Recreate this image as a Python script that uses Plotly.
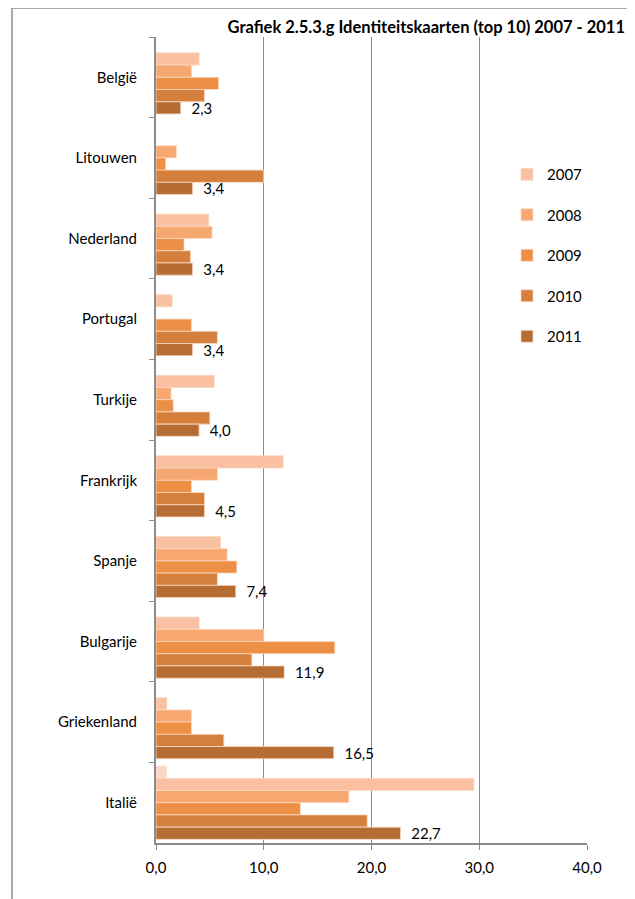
import plotly.graph_objects as go

categories = ["België", "Litouwen", "Nederland", "Portugal", "Turkije",
              "Frankrijk", "Spanje", "Bulgarije", "Griekenland", "Italië"]
years = ["2007", "2008", "2009", "2010", "2011"]
extra = [None, None, None, None, None, None, None, None, None, 1.0]
v2007 = [4.0, None, 4.9, 1.5, 5.4, 11.8, 6.0, 4.0, 1.0, 29.5]
v2008 = [3.3, 1.9, 5.2, None, 1.4, 5.7, 6.6, 10.0, 3.3, 17.9]
v2009 = [5.8, 0.9, 2.6, 3.3, 1.6, 3.3, 7.5, 16.6, 3.3, 13.4]
v2010 = [4.5, 10.0, 3.2, 5.7, 5.0, 4.5, 5.7, 8.9, 6.3, 19.6]
v2011 = [2.3, 3.4, 3.4, 3.4, 4.0, 4.5, 7.4, 11.9, 16.5, 22.7]
series = [v2007, v2008, v2009, v2010, v2011]
colors = ["#F9C1A1", "#F7A870", "#ED9046", "#D4803C", "#B56D33"]
extra_color = "#FAD6C6"
xticks = [0, 10, 20, 30, 40]
xticktext = ["0,0", "10,0", "20,0", "30,0", "40,0"]

FONT = "Lato, 'Open Sans', sans-serif"

fig = go.Figure()
fig.add_trace(go.Bar(
    y=categories, x=extra, orientation="h", name="extra",
    marker=dict(color=extra_color, line=dict(color="#FCE6DA", width=0.8)),
    showlegend=False, hoverinfo="skip"))
for i, (yr, vals, col) in enumerate(zip(years, series, colors)):
    kw = {}
    if yr == "2011":
        kw = dict(text=["\u00a0\u00a0" + f"{v:.1f}".replace(".", ",") for v in vals],
                  textposition="outside", constraintext="none", cliponaxis=False,
                  textfont=dict(family=FONT, size=15, color="#000000"))
    fig.add_trace(go.Bar(
        y=categories, x=vals, orientation="h", name=yr,
        legendgroup=yr,
        marker=dict(color=col, line=dict(color="#FBD9C4", width=0.8)),
        **kw))

# page has an 8px body margin: work in reference pixel coords, offset by 8
OFF = 8
W, H = 635 - OFF, 899 - OFF
L, R, T, B = 156 - OFF, 48, 37 - OFF, 56
pw, ph = W - L - R, H - T - B

def px_x(x):
    return (x - OFF - L) / pw

def px_y(y):
    return (H - B - (y - OFF)) / ph

fig.update_layout(
    width=W, height=H,
    margin=dict(l=L, r=R, t=T, b=B),
    paper_bgcolor="white", plot_bgcolor="white",
    barmode="group", bargap=0.09, bargroupgap=0,
    font=dict(family=FONT, size=15, color="#000000"),
    title=dict(text="<b>Grafiek 2.5.3.g Identiteitskaarten (top 10) 2007 - 2011</b>",
               x=(625 - OFF) / W, xanchor="right", xref="container",
               y=1 - (27 - OFF) / H, yanchor="middle", yref="container",
               font=dict(family=FONT, size=16.5, color="#000000")),
    xaxis=dict(range=[0, 40], tickvals=xticks, ticktext=xticktext,
               showgrid=True, gridcolor="#8C8C8C", gridwidth=1,
               showline=True, linecolor="#8C8C8C", linewidth=2,
               ticks="outside", ticklen=5, tickcolor="#8C8C8C",
               ticklabelstandoff=5,
               tickfont=dict(size=15), zeroline=False, fixedrange=True),
    yaxis=dict(autorange="reversed", type="category",
               showline=True, linecolor="#8C8C8C", linewidth=2,
               ticks="outside", ticklen=5, tickcolor="#8C8C8C",
               tickson="boundaries", ticklabelstandoff=14,
               tickfont=dict(size=15), showgrid=False),
    legend=dict(x=px_x(507), y=px_y(158), xanchor="left", yanchor="top",
                bgcolor="rgba(0,0,0,0)", tracegroupgap=18,
                font=dict(size=15, family=FONT)),
    shapes=[
        dict(type="line", xref="paper", yref="paper",
             x0=px_x(12), x1=px_x(12), y0=px_y(8), y1=px_y(899),
             line=dict(color="#8C8C8C", width=1.5)),
        dict(type="line", xref="paper", yref="paper",
             x0=px_x(12), x1=px_x(635), y0=px_y(8), y1=px_y(8),
             line=dict(color="#8C8C8C", width=1.5)),
    ],
)

fig.write_html("out.html")
